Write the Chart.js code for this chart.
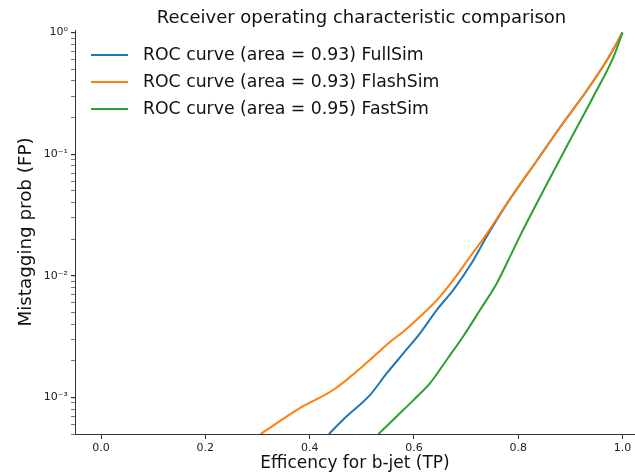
<!DOCTYPE html>
<html>
<head>
<meta charset="utf-8">
<script src="https://cdn.jsdelivr.net/npm/chart.js@4"></script>
<style>
  html, body { margin: 0; padding: 0; background: #fff; }
  #wrap { width: 635px; height: 474px; position: relative; }
</style>
</head>
<body>
<div id="wrap"><canvas id="roc"></canvas></div>
<script>
// Efficiency (TP) and mistag (FP)
const fullSimTP = [0.437, 0.468, 0.516, 0.548, 0.580, 0.612, 0.644, 0.676, 0.708, 0.741, 0.779, 0.837, 0.881, 0.933, 0.971, 1.0];
const fullSimFP = [5.0e-4, 6.8e-4, 1.05e-3, 1.58e-3, 2.31e-3, 3.38e-3, 5.25e-3, 7.7e-3, 0.0122, 0.0215, 0.0395, 0.090, 0.168, 0.340, 0.60, 1.0];

const flashSimTP = [0.306, 0.382, 0.445, 0.516, 0.555, 0.580, 0.612, 0.644, 0.676, 0.708, 0.741, 0.779, 0.837, 0.881, 0.933, 0.971, 1.0];
const flashSimFP = [5.0e-4, 8.2e-4, 1.15e-3, 2.04e-3, 2.88e-3, 3.48e-3, 4.62e-3, 6.3e-3, 9.3e-3, 0.0144, 0.0226, 0.0399, 0.090, 0.168, 0.340, 0.60, 1.0];

const fastSimTP = [0.532, 0.580, 0.599, 0.631, 0.663, 0.695, 0.727, 0.759, 0.788, 0.804, 0.856, 0.900, 0.944, 0.983, 1.0];
const fastSimFP = [5.0e-4, 7.9e-4, 9.5e-4, 1.31e-3, 2.04e-3, 3.2e-3, 5.25e-3, 8.7e-3, 0.0155, 0.0215, 0.058, 0.132, 0.297, 0.634, 1.0];

const seriesLabels = [
    'ROC curve (area = 0.93) FullSim',
    'ROC curve (area = 0.93) FlashSim',
    'ROC curve (area = 0.95) FastSim'
];
const seriesColors = ['#1f77b4', '#ff7f0e', '#2ca02c'];

const xTicks = [0.0, 0.2, 0.4, 0.6, 0.8, 1.0];
const yDecades = [1e-3, 1e-2, 1e-1, 1];
const yDecadeLabels = ['10\u207B\u00B3', '10\u207B\u00B2', '10\u207B\u00B9', '10\u2070'];

const FONT = '"DejaVu Sans", "Liberation Sans", sans-serif';

const toPoints = (xs, ys) => xs.map((x, i) => ({ x, y: ys[i] }));
const isDecade = v => yDecades.some(d => Math.abs(d - v) / d < 1e-6);

// Legend drawn inside the plot, top-left, like matplotlib's
const insideLegend = {
    id: 'insideLegend',
    afterLayout(chart) {
        // the original axes run past the right edge of the picture; centre the title on them
        if (chart.titleBlock) chart.titleBlock.right += 13;
    },
    afterDatasetsDraw(chart) {
        const ctx = chart.ctx;
        const area = chart.chartArea;
        ctx.save();
        ctx.font = '17.3px ' + FONT;
        ctx.textBaseline = 'middle';
        chart.data.datasets.forEach((ds, i) => {
            const y = area.top + 25 + i * 27;
            const x = area.left + 16;
            ctx.strokeStyle = ds.borderColor;
            ctx.lineWidth = 2;
            ctx.beginPath();
            ctx.moveTo(x, y);
            ctx.lineTo(x + 37, y);
            ctx.stroke();
            ctx.fillStyle = '#111';
            ctx.fillText(ds.label, x + 52, y + 1);
        });
        ctx.restore();
    }
};

const datasets = [
    { label: seriesLabels[0], data: toPoints(fullSimTP, fullSimFP), order: 3 },
    { label: seriesLabels[1], data: toPoints(flashSimTP, flashSimFP), order: 2 },
    { label: seriesLabels[2], data: toPoints(fastSimTP, fastSimFP), order: 1 }
].map((ds, i) => ({
    ...ds,
    borderColor: seriesColors[i],
    backgroundColor: seriesColors[i],
    borderWidth: 2,
    pointRadius: 0,
    cubicInterpolationMode: 'monotone',
    fill: false
}));

new Chart(document.getElementById('roc'), {
    type: 'line',
    data: { datasets },
    plugins: [insideLegend],
    options: {
        responsive: true,
        maintainAspectRatio: false,
        animation: false,
        layout: { padding: 0 },
        plugins: {
            legend: { display: false },
            tooltip: { enabled: false },
            title: {
                display: true,
                text: 'Receiver operating characteristic comparison',
                fullSize: false,
                color: '#111',
                font: { family: FONT, size: 18, weight: 'normal', lineHeight: 1.0 },
                padding: { top: 9, bottom: 3 }
            }
        },
        scales: {
            x: {
                type: 'linear',
                min: -0.05,
                max: 1.024,
                afterBuildTicks: scale => { scale.ticks = xTicks.map(v => ({ value: v })); },
                afterFit: scale => { scale.height = 40; },
                grid: { drawOnChartArea: false, drawTicks: true, tickLength: 5, color: '#333' },
                border: { display: true, color: '#333', width: 1 },
                ticks: {
                    autoSkip: false,
                    maxRotation: 0,
                    padding: 3,
                    color: '#222',
                    font: { family: FONT, size: 11 },
                    callback: v => v.toFixed(1)
                },
                title: {
                    display: true,
                    text: 'Efficency for b-jet (TP)',
                    color: '#111',
                    font: { family: FONT, size: 17 },
                    padding: { top: 0, bottom: 0 }
                }
            },
            y: {
                type: 'logarithmic',
                min: 5e-4,
                max: 1.05,
                afterBuildTicks: scale => {
                    const ticks = [];
                    yDecades.forEach(d => {
                        for (let m = 1; m <= 9; m++) {
                            const v = d / 10 * m;
                            if (v >= 5e-4 && v <= 1) ticks.push({ value: v, major: m === 1 });
                        }
                    });
                    ticks.push({ value: 1, major: true });
                    scale.ticks = ticks;
                },
                afterFit: scale => { scale.width = 75; },
                grid: {
                    drawOnChartArea: false,
                    drawTicks: true,
                    tickLength: 4,
                    color: ctx => (ctx.tick && isDecade(ctx.tick.value) ? '#333' : '#555'),
                    lineWidth: ctx => (ctx.tick && isDecade(ctx.tick.value) ? 1.2 : 0.8)
                },
                border: { display: true, color: '#333', width: 1 },
                ticks: {
                    autoSkip: false,
                    padding: 3,
                    color: '#222',
                    font: { family: FONT, size: 11 },
                    callback: v => {
                        const i = yDecades.findIndex(d => Math.abs(d - v) / d < 1e-6);
                        return i >= 0 ? yDecadeLabels[i] : '';
                    }
                },
                title: {
                    display: true,
                    text: 'Mistagging prob (FP)',
                    color: '#111',
                    font: { family: FONT, size: 18.3 },
                    padding: { top: 15, bottom: 0 }
                }
            }
        }
    }
});
</script>
</body>
</html>
